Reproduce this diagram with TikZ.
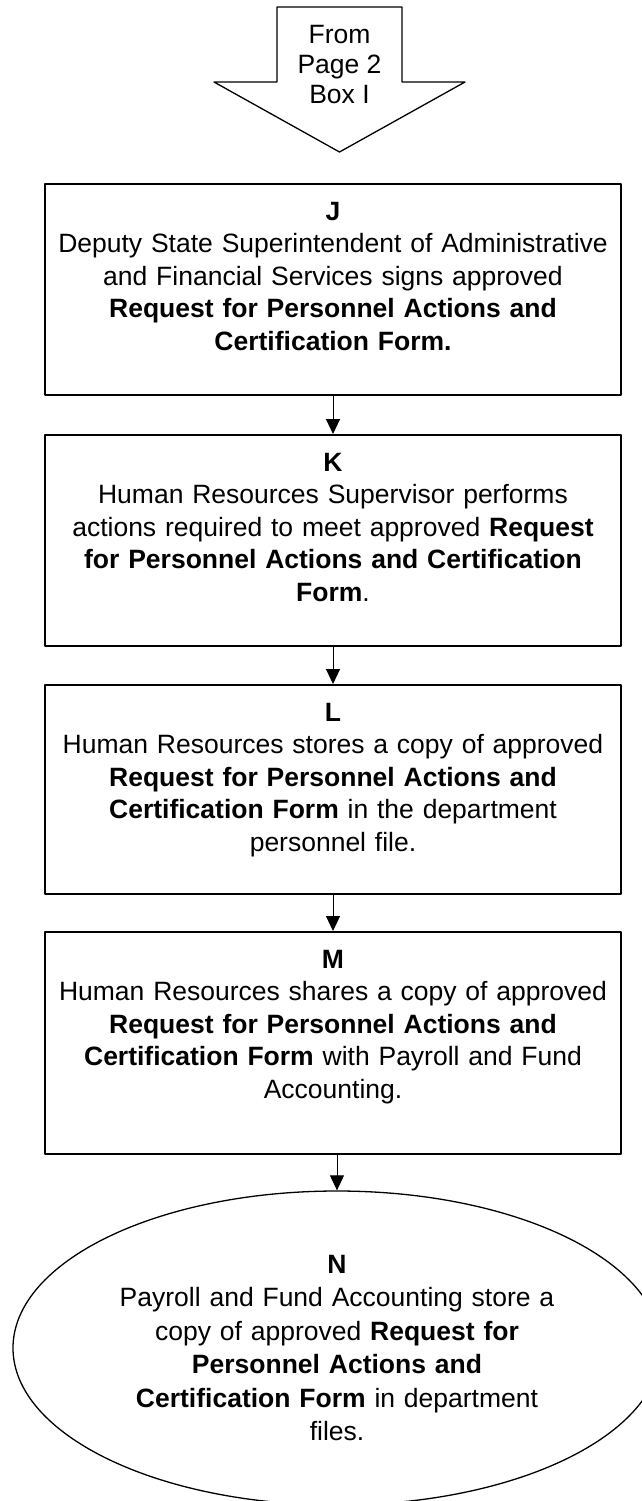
\documentclass[tikz,border=0pt]{standalone}
\usepackage{fontspec}
\setmainfont{Liberation Sans}
\usetikzlibrary{positioning,shapes.geometric,arrows.meta}

\newcommand{\stepfont}{\fontsize{26.5pt}{32.5pt}\selectfont}
\newcommand{\ovalfont}{\fontsize{26.5pt}{33.4pt}\selectfont}

\tikzset{
  stepbox/.style={draw, line width=1.8pt, minimum width=576pt, anchor=north, inner sep=0pt},
  steptext/.style={text width=570pt, align=center, anchor=north, inner sep=0pt, font=\stepfont},
  flowarrow/.style={line width=1pt, -{Triangle[width=14pt,length=15pt]}}
}

\begin{document}
\begin{tikzpicture}[
  x=1pt,
  y=-1pt,
  line cap=round,
  line join=round
]
  \def\boxx{333}
  \def\gap{19pt}

  \useasboundingbox (0,0) rectangle (642,1501);
  \clip (0,0) rectangle (642,1501);

  % Стрелка со страницы 2
  \draw[line width=1.3pt]
    (277,7) -- (402,7) -- (402,82) -- (465,82)
    -- (339.5,152) -- (214,82) -- (277,82) -- cycle;

  \node[font=\fontsize{26.5pt}{30pt}\selectfont, align=center, inner sep=0pt]
    (from) at (339.5,65) {From\\Page 2\\Box I};

  % Блок J
  \node[stepbox, minimum height=211pt] (J) at (\boxx,183) {};
  \node[steptext, below=\gap of J.north] (Jtext)
    {\textbf{J}\\
     Deputy State Superintendent of Administrative\\
     and Financial Services signs approved\\
     \textbf{Request for Personnel Actions and}\\
     \textbf{Certification Form.}};

  % Блок K
  \node[stepbox, minimum height=211pt] (K) at (\boxx,434) {};
  \node[steptext, below=\gap of K.north] (Ktext)
    {\textbf{K}\\
     Human Resources Supervisor performs\\
     actions required to meet approved \textbf{Request}\\
     \textbf{for Personnel Actions and Certification}\\
     \textbf{Form}.};

  % Блок L
  \node[stepbox, minimum height=209pt] (L) at (\boxx,684) {};
  \node[steptext, below=\gap of L.north] (Ltext)
    {\textbf{L}\\
     Human Resources stores a copy of approved\\
     \textbf{Request for Personnel Actions and}\\
     \textbf{Certification Form} in the department\\
     personnel file.};

  % Блок M
  \node[stepbox, minimum height=222pt] (M) at (\boxx,931) {};
  \node[steptext, below=\gap of M.north] (Mtext)
    {\textbf{M}\\
     Human Resources shares a copy of approved\\
     \textbf{Request for Personnel Actions and}\\
     \textbf{Certification Form} with Payroll and Fund\\
     Accounting.};

  % Овал N
  \node[ellipse, draw, line width=1.3pt, minimum width=648pt, minimum height=314pt,
        text width=440pt, align=center, inner sep=0pt, font=\ovalfont]
    (N) at (337,1348)
    {\textbf{N}\\
     Payroll and Fund Accounting store a\\
     copy of approved \textbf{Request for}\\
     \textbf{Personnel Actions and}\\
     \textbf{Certification Form} in department\\
     files.};

  % Стрелки
  \draw[flowarrow] (J) -- (K);
  \draw[flowarrow] (K) -- (L);
  \draw[flowarrow] (L) -- (M);
  \draw[flowarrow] (M.south -| N.north) -- (N.north);
\end{tikzpicture}
\end{document}
